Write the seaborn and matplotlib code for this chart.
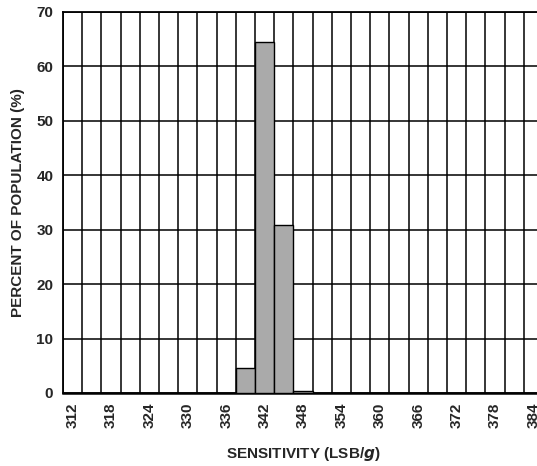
import matplotlib
matplotlib.use("Agg")
import matplotlib.pyplot as plt
import pandas as pd
import seaborn as sns

# sensitivity bins (LSB/g, bin centres) and share of population (%)
bin_centers = [339, 342, 345, 348]
percent = [4.5, 64.5, 30.8, 0.4]
x_ticks = list(range(312, 385, 6))
y_ticks = list(range(0, 71, 10))

sns.set_theme(style="white")
plt.rcParams["font.family"] = ["Liberation Sans", "DejaVu Sans"]
plt.rcParams["font.weight"] = "bold"

fig = plt.figure(figsize=(5.37, 4.66), dpi=100)
# plot area runs past the right edge of the figure, as in the original
ax = fig.add_axes([0.1173, 0.1567, 0.8939, 0.8176])

df = pd.DataFrame({"sens": bin_centers, "pct": percent})
edges = [310.5 + 3 * k for k in range(26)]
sns.histplot(data=df, x="sens", weights="pct", bins=edges, color="#aaaaaa",
             edgecolor="black", linewidth=1.0, alpha=1.0, ax=ax, zorder=3)

ax.set_xlim(310.5, 385.5)
ax.set_ylim(0, 70)
ax.set_xticks(x_ticks)
ax.set_xticks(edges, minor=True)
ax.set_yticks(y_ticks)
ax.set_xticklabels([str(t) for t in x_ticks], rotation=90, fontsize=11, weight="bold")
ax.set_yticklabels([str(t) for t in y_ticks], fontsize=11, weight="bold")
ax.tick_params(axis="both", which="both", length=0, pad=7)

ax.grid(False)
ax.grid(True, which="minor", axis="x", color="black", linewidth=1.1, zorder=1)
ax.grid(True, which="major", axis="y", color="black", linewidth=1.1, zorder=1)
ax.set_axisbelow(True)

for side in ["top", "left", "bottom"]:
    ax.spines[side].set_color("black")
    ax.spines[side].set_linewidth(1.3)
ax.spines["bottom"].set_linewidth(1.8)
ax.spines["right"].set_visible(False)

ax.set_xlabel("SENSITIVITY (LSB/$\\mathbfit{g}$)", fontsize=11, weight="bold", labelpad=12)
ax.set_ylabel("PERCENT OF POPULATION (%)", fontsize=11, weight="bold", labelpad=8)

fig.savefig("out.png", dpi=100)
